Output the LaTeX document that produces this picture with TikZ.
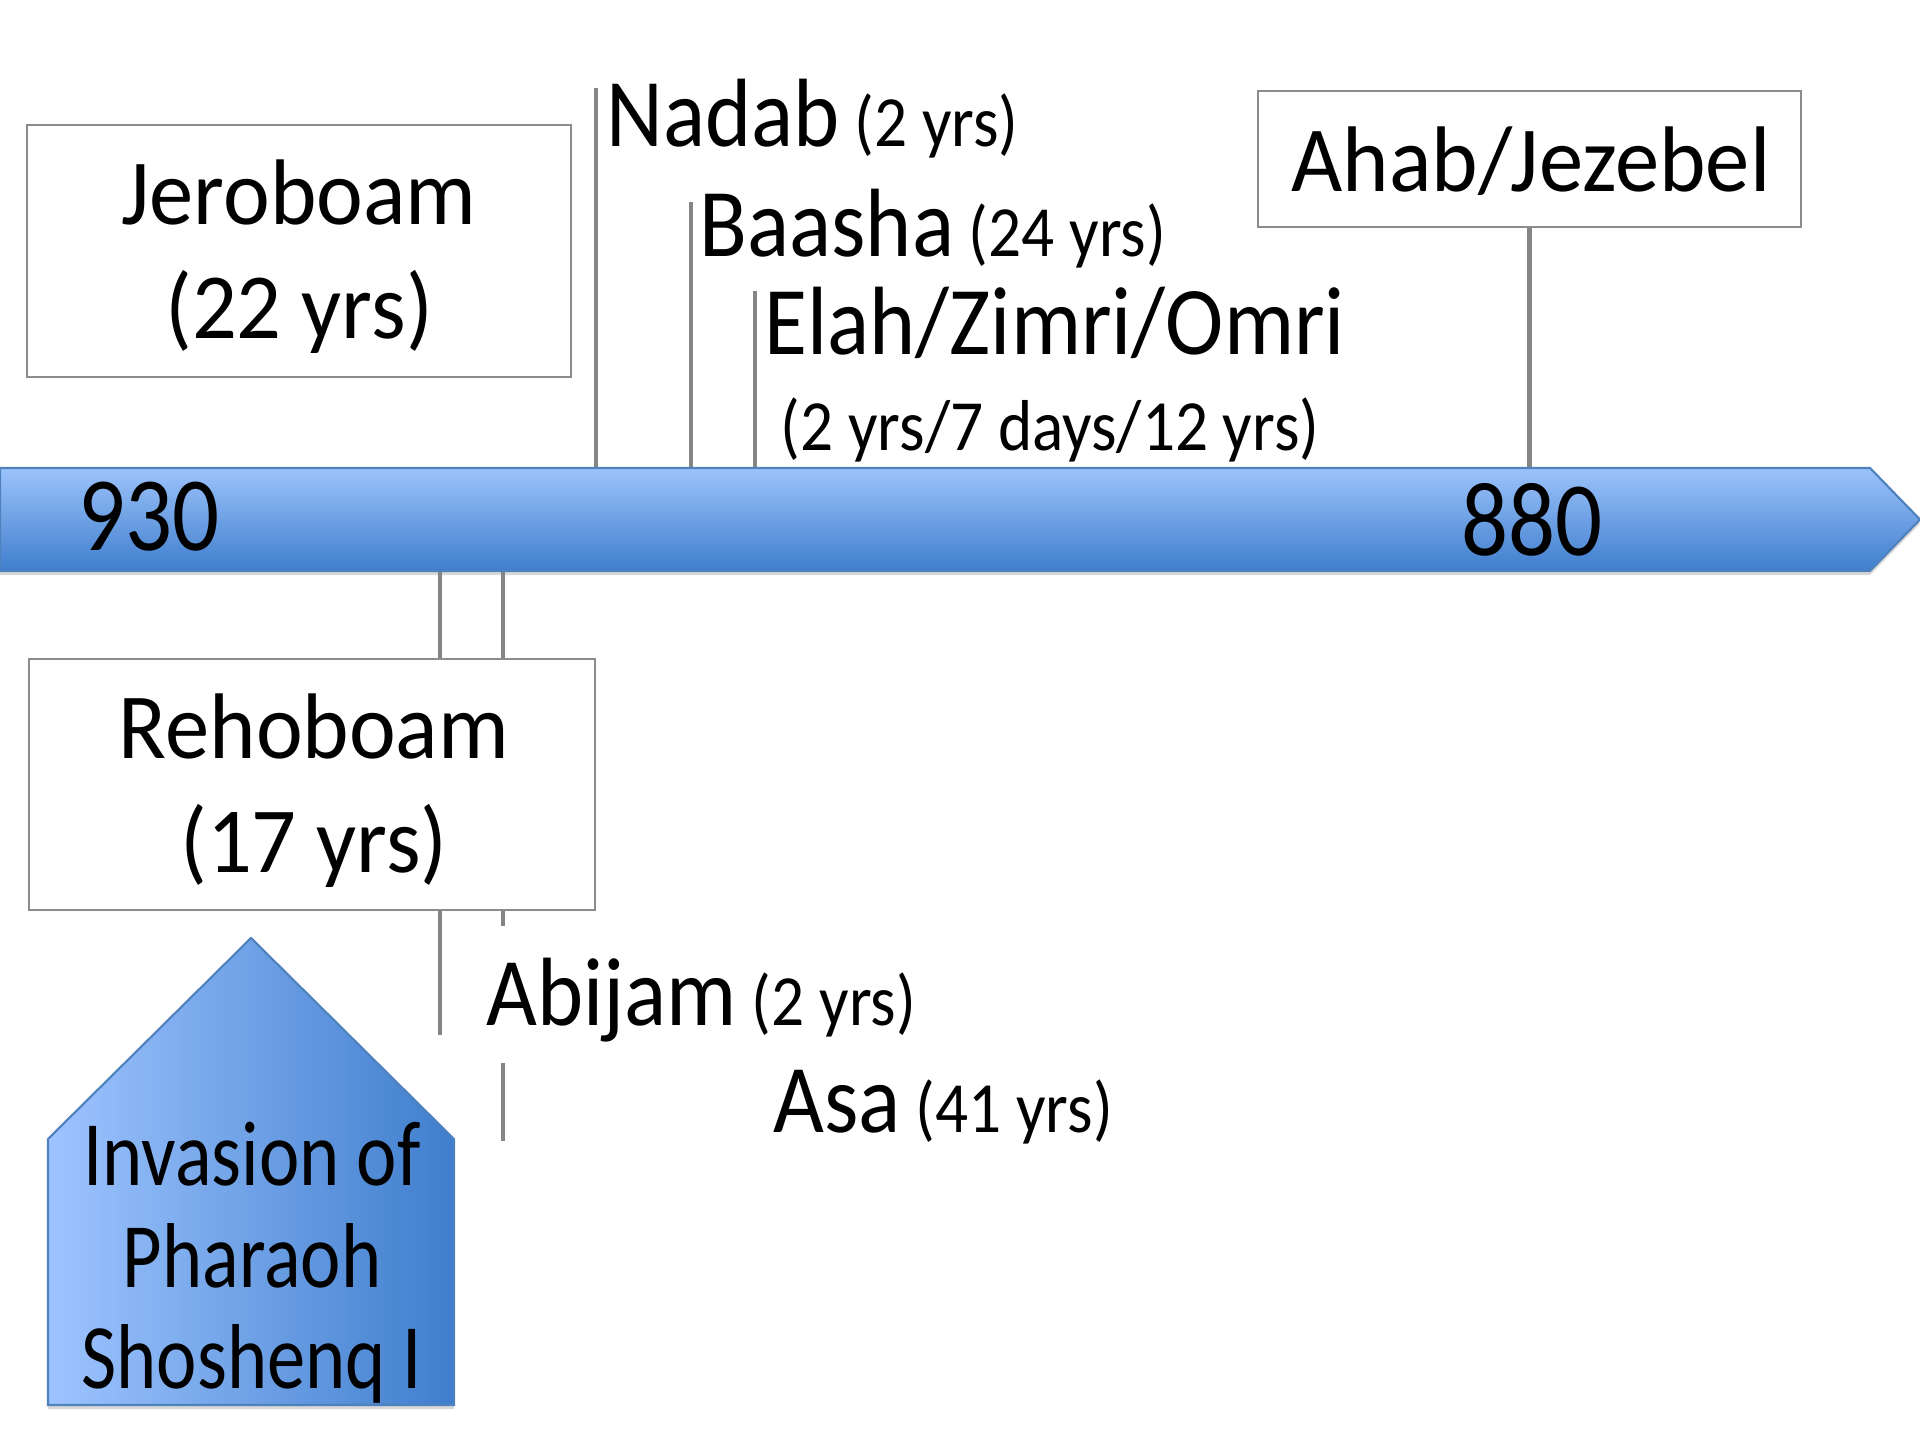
\documentclass[tikz,border=0pt]{standalone}
\usepackage{fontspec}
\setmainfont{Carlito}
\newfontfamily\condfont{Carlito}[FakeStretch=0.905]
\newfontfamily\numfont{Carlito}[FakeStretch=0.88]
\newfontfamily\boxfont{Carlito}[FakeStretch=0.95]
\newfontfamily\pentfont{Carlito}[FakeStretch=0.83]
\usetikzlibrary{shadows}
\definecolor{arrtop}{HTML}{9CC3FB}
\definecolor{arrbot}{HTML}{3F7ECD}
\definecolor{arredge}{HTML}{4F81BD}
\definecolor{pentl}{HTML}{9EC4FF}
\definecolor{pentr}{HTML}{3F7ECD}
\definecolor{tickc}{HTML}{858585}
\definecolor{boxedge}{HTML}{8C8C8C}
\newcommand\yrstext[1]{{\fontsize{20.5}{20.5}\selectfont #1}}
\begin{document}
\begin{tikzpicture}[x=0.01cm,y=-0.01cm,
  tick/.style={draw=tickc,line width=1.3pt},
  kingbox/.style={draw=boxedge,line width=0.5pt,fill=white,inner sep=0pt},
  kingtext/.style={inner sep=0pt,align=center,font=\boxfont\fontsize{26.5}{32.4}\selectfont},
  lbl/.style={inner sep=0pt,anchor=base west,font=\condfont\fontsize{27.6}{27.6}\selectfont},
  num/.style={inner sep=0pt,anchor=base,font=\numfont\fontsize{30}{30}\selectfont},
  softshadow/.style={drop shadow={opacity=0.3,shadow xshift=0pt,shadow yshift=-1.2pt}}]
\useasboundingbox (0,0) rectangle (1920,1440);
\fill[white] (0,0) rectangle (1920,1440);

% axis reference coordinates
\coordinate (axtop) at (0,468);
\coordinate (axbot) at (0,571);

% tick coordinates
\coordinate (nadabtick) at (596,88);
\coordinate (baashatick) at (691,202);
\coordinate (elahtick) at (755,291);
\coordinate (rehotick) at (440,1035);
\coordinate (asatick) at (503,1141);

% Ahab box (needed for its tick)
\node[kingbox,minimum width=5.43cm,minimum height=1.36cm] (ahab) at (1529.5,159) {};
\node[kingtext] (ahabtext) at (1531,161) {Ahab/Jezebel};

% ticks
\draw[tick] (nadabtick) -- (nadabtick |- axtop);
\draw[tick] (baashatick) -- (baashatick |- axtop);
\draw[tick] (elahtick) -- (elahtick |- axtop);
\draw[tick] (ahab.south) -- (ahab.south |- axtop);
\draw[tick] (rehotick |- axbot) -- (rehotick);
\draw[tick] (asatick |- axbot) -- (asatick);

% timeline arrow
\path[draw=arredge,line width=0.6pt,top color=arrtop,bottom color=arrbot,softshadow]
  (0,468) -- (1870,468) -- (1920,519.5) -- (1870,571) -- (0,571) -- cycle;
\node[num] (y930) at (149,551) {930};
\node[num] (y880) at (1532,556) {880};

% king boxes
\node[kingbox,minimum width=5.44cm,minimum height=2.52cm] (jero) at (299,251) {};
\node[kingtext] (jerotext) at (299,257) {Jeroboam\\(22 yrs)};
\node[kingbox,minimum width=5.66cm,minimum height=2.51cm] (reho) at (312,784.5) {};
\node[kingtext] (rehotext) at (314,790.5) {Rehoboam\\(17 yrs)};

% labels
\node[lbl] (nadab) at (606,147) {Nadab\yrstext{ (2 yrs)}};
\node[lbl] (baasha) at (699,257) {Baasha\yrstext{ (24 yrs)}};
\node[lbl] (elah) at (764,355) {Elah/Zimri/Omri};
\node[inner sep=0pt,anchor=base,font=\condfont\fontsize{20.5}{20.5}\selectfont] (elahyrs) at (1050,451) {(2 yrs/7 days/12 yrs)};
\node[lbl,fill=white,inner xsep=2.85pt,text height=28.45pt,text depth=10.5pt] (abijam) at (476,1026) {Abijam\yrstext{ (2 yrs)}};
\node[lbl] (asa) at (773,1133) {Asa\yrstext{ (41 yrs)}};

% invasion pentagon
\path[draw=arredge,line width=0.6pt,left color=pentl,right color=pentr,softshadow]
  (48,1405) -- (48,1139) -- (251,938) -- (454,1139) -- (454,1405) -- cycle;
\node[inner sep=0pt,align=center,font=\pentfont\fontsize{26.2}{28.9}\selectfont] (invasion) at (252,1263) {Invasion of\\Pharaoh\\Shoshenq I};
\end{tikzpicture}
\end{document}
